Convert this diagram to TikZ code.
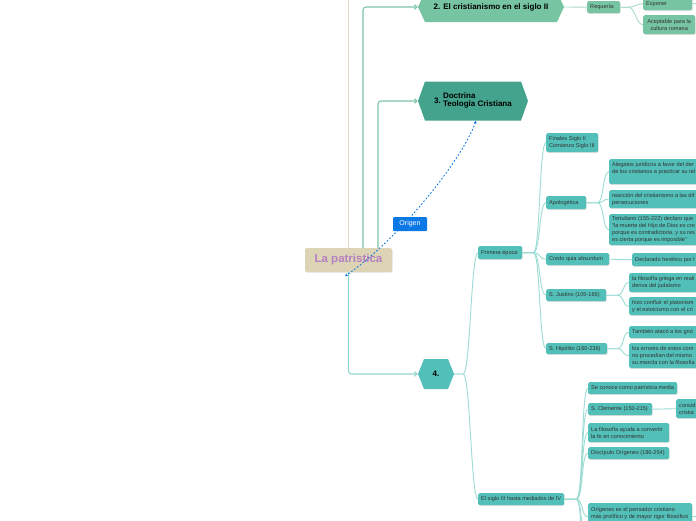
\documentclass[tikz,border=0pt]{standalone}
\usepackage{fontspec}
\setmainfont{Liberation Sans}
\usetikzlibrary{arrows.meta,shadows}

\definecolor{tealbox}{HTML}{52BFB8}
\definecolor{greenbox}{HTML}{76C4A2}
\definecolor{darkhex}{HTML}{43A38C}
\definecolor{beigebox}{HTML}{DCD4B5}
\definecolor{purpletext}{HTML}{B57FC3}
\definecolor{origenblue}{HTML}{0B78E6}
\definecolor{tealline}{HTML}{9CDCD4}
\definecolor{greenline}{HTML}{A9DBC6}
\definecolor{beigeline}{HTML}{E4DCC2}
\definecolor{mainline}{HTML}{7DC7A6}
\definecolor{mainteal}{HTML}{8FD8CF}

\tikzset{
 leaf/.style={fill=tealbox, rounded corners=1.5pt,
   drop shadow={shadow xshift=0.5pt, shadow yshift=-0.7pt, opacity=0.25}},
 gleaf/.style={leaf, fill=greenbox},
 leaftext/.style={font=\fontsize{5.6}{7}\selectfont, text=black!80, inner xsep=3pt, inner ysep=0pt},
 conn/.style={draw=tealline, line width=0.9pt},
 gconn/.style={draw=greenline, line width=0.9pt},
 hexfont/.style={font=\fontsize{8}{9}\selectfont\bfseries},
 mainarrow/.style={line width=1.1pt, rounded corners=3pt, -{Straight Barb[length=2.5pt,width=4.5pt]}},
}

% box: name, x1, y1, x2, y2, style, text (left aligned)
\newcommand\bx[7]{%
 \pgfmathsetmacro\bxw{#4-#2}\pgfmathsetmacro\bxh{#5-#3}%
 \node[anchor=north west, inner sep=0pt, minimum width=\bxw pt, minimum height=\bxh pt, #6] (#1) at (#2,#3) {};
 \node[leaftext, anchor=west, align=left] (#1t) at (#1.west) {#7};}
% box with centred text
\newcommand\bxc[7]{%
 \pgfmathsetmacro\bxw{#4-#2}\pgfmathsetmacro\bxh{#5-#3}%
 \node[anchor=north west, inner sep=0pt, minimum width=\bxw pt, minimum height=\bxh pt, #6] (#1) at (#2,#3) {};
 \node[leaftext, align=center] (#1t) at (#1.center) {#7};}
% name, xL, xR, yc, halfh, inset, color, text
\newcommand\hexa[8]{%
 \fill[#7] (#2,#4) -- (#2+#6,#4-#5) -- (#3-#6,#4-#5) -- (#3,#4) -- (#3-#6,#4+#5) -- (#2+#6,#4+#5) -- cycle;
 \pgfmathsetmacro\hw{#3-#2}\pgfmathsetmacro\hh{2*#5}%
 \node[minimum width=\hw pt, minimum height=\hh pt, inner sep=0pt, hexfont] (#1) at ({(#2+#3)/2},#4) {#8};}
% style, from, branch dx, to
\newcommand\link[4]{%
 \draw[#1] (#2.east) -- ++(#3,0) .. controls +(7,0) and +(-7,0) .. (#4);}

\begin{document}
\begin{tikzpicture}[x=1pt,y=-1pt]
\clip (0,0) rectangle (696,520);
\fill[white] (0,0) rectangle (696,520);

% central node
\node[fill=beigebox, rounded corners=2pt, minimum width=87pt, minimum height=24pt,
  font=\fontsize{11.5}{12}\selectfont\bfseries, text=purpletext,
  drop shadow={shadow xshift=0.5pt, shadow yshift=-0.7pt, opacity=0.2}] (c) at (348.5,260) {La patristica};

% hexagons
\hexa{h2}{418}{564}{7}{15}{7}{greenbox}{2. El cristianismo en el siglo II}
\hexa{h3}{418}{528}{101}{19.5}{7}{darkhex}{3.~\begin{tabular}[c]{@{}l@{}}Doctrina\\[-1pt]Teología Cristiana\end{tabular}}
\hexa{h4}{418}{454}{374}{15}{6}{tealbox}{4.}

% main connectors
\coordinate (top) at (348.5,-5);
\draw[beigeline, line width=1.5pt] (c.north) -- (top);
\coordinate (c1) at ([xshift=14.5pt]c.north);
\coordinate (c2) at ([xshift=29.5pt]c.north);
\draw[mainarrow, draw=mainline] (c1) |- (h2.west);
\draw[mainarrow, draw=mainline] (c2) |- (h3.west);
\draw[mainarrow, draw=mainteal] (c.south) |- (h4.west);

% Origen dashed relation
\coordinate (otop) at ([xshift=3pt]h3.south);
\coordinate (oend) at ([xshift=-3.5pt,yshift=-4pt]c.south);
\draw[origenblue, line width=0.9pt, dash pattern=on 1.6pt off 2pt,
  {Stealth[length=3pt,width=3pt]}-{Stealth[length=3pt,width=3pt]}]
  (otop) .. controls (462,160) and (400,238) .. (oend);
\node[fill=origenblue, text=white, rounded corners=1pt, minimum width=34pt, minimum height=14pt,
  inner sep=0pt, font=\fontsize{7}{8}\selectfont] (org) at (410,224) {Origen};

% node 2 branch
\bx{req}{587}{1}{620}{13}{gleaf}{Requería:}
\bx{exp}{643}{-3}{692}{10}{gleaf}{Exponer}
\bxc{acep}{643}{15}{695}{34}{gleaf}{Aceptable para la\\cultura romana}
\draw[gconn] (h2.east) -- (req.west);
\link{gconn}{req}{8}{exp.west}
\link{gconn}{req}{8}{acep.west}
\coordinate (expout) at (700,3.5);
\draw[gconn] (exp.east) -- (expout);

% node 4 branch
\bx{pe}{478}{246}{522}{259}{leaf}{Primera época}
\bx{sig}{478}{493}{564}{505}{leaf}{El siglo III hasta mediados de IV}
\link{conn}{h4}{9}{pe.west}
\link{conn}{h4}{9}{sig.west}

% Primera época children
\bx{fin}{546}{133}{598}{152}{leaf}{Finales Siglo II\\Comienzo Siglo III}
\bx{apo}{546}{196}{586}{209}{leaf}{Apologética}
\bx{cre}{546}{253}{609}{265}{leaf}{Credo quia absurdum}
\bx{jus}{546}{289}{606}{301}{leaf}{S. Justino (105-165)}
\bx{hip}{546}{343}{607}{354}{leaf}{S. Hipólito (160-236)}
\link{conn}{pe}{11}{fin.west}
\link{conn}{pe}{11}{apo.west}
\link{conn}{pe}{11}{cre.west}
\link{conn}{pe}{11}{jus.west}
\link{conn}{pe}{11}{hip.west}

% Apologética children
\bx{ale}{609}{159}{760}{184}{leaf}{Alegatos jurídicos a favor del der\\de los cristianos a practicar su rel\\\mbox{}}
\bx{rea}{609}{190}{760}{208}{leaf}{reacción del cristianismo a las dif\\persecuciones}
\bx{ter}{609}{214}{760}{245}{leaf}{Tertuliano (155-222) declaro que\\“la muerte del Hijo de Dios es cre\\porque es contradictoria, y su res\\es cierta porque es imposible”}
\link{conn}{apo}{11}{ale.west}
\link{conn}{apo}{11}{rea.west}
\link{conn}{apo}{11}{ter.west}

% Credo
\bx{dec}{632}{253}{760}{266}{leaf}{Declarado herético por l}
\draw[conn] (cre.east) -- (dec.west);

% Justino children
\bx{jf}{629}{273}{760}{292}{leaf}{la filosofía griega en reali\\deriva del judaísmo}
\bx{jh}{629}{297}{760}{315}{leaf}{hizo confluir el platonism\\y el estoicismo con el cri}
\link{conn}{jus}{11}{jf.west}
\link{conn}{jus}{11}{jh.west}

% Hipólito children
\bx{ht}{629}{326}{760}{338}{leaf}{También atacó a los gnó}
\bx{he}{629}{343}{760}{368}{leaf}{los errores de estos com\\no procedían del mismo\\su mezcla con la filosofía}
\link{conn}{hip}{10}{ht.west}
\link{conn}{hip}{10}{he.west}

% El siglo III children
\bx{sc}{588}{382}{677}{394}{leaf}{Se conoce como patrística media}
\bx{cl}{588}{403}{652}{415}{leaf}{S. Clemente (150-215)}
\bx{lf}{588}{423}{669}{442}{leaf}{La filosofía ayuda a convertir\\la fe en conocimiento}
\bx{di}{588}{447}{669}{459}{leaf}{Discípulo Orígenes (186-254)}
\bx{or}{588}{503}{692}{530}{leaf}{Orígenes es el pensador cristiano\\más prolífico y de mayor rigor filosófico\\\mbox{}}
\coordinate (m1) at (588,560);
\coordinate (m2) at (588,600);
\link{conn}{sig}{12}{sc.west}
\link{conn}{sig}{12}{cl.west}
\link{conn}{sig}{12}{lf.west}
\link{conn}{sig}{12}{di.west}
\link{conn}{sig}{12}{or.west}
\link{conn}{sig}{12}{m1}
\link{conn}{sig}{12}{m2}
\coordinate (orout) at (700,516);
\draw[conn] (or.east) -- (orout);

% Clemente child
\bx{cons}{676}{399}{740}{418}{leaf}{consid\\cristia}
\draw[conn] (cl.east) -- (cons.west);
\end{tikzpicture}
\end{document}
